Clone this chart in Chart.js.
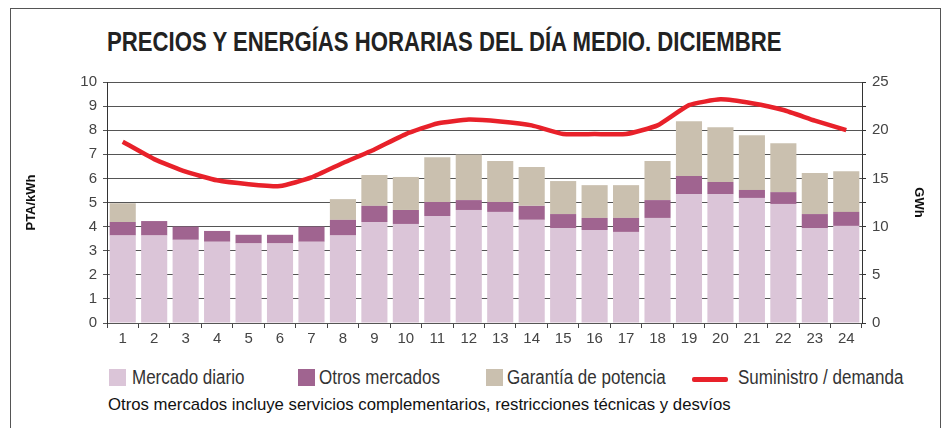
<!DOCTYPE html>
<html>
<head>
<meta charset="utf-8">
<script src="https://cdn.jsdelivr.net/npm/chart.js@4.4.0/dist/chart.umd.min.js"></script>
<style>
  body { margin: 0; background: #fff; font-family: 'Liberation Sans', Arial, sans-serif; }
  #wrap { position: relative; width: 946px; height: 428px; overflow: hidden; }
  #frame { position: absolute; left: 10px; top: 8px; width: 929px; height: 440px; border: 1px solid #555; }
  #title { position: absolute; left: 107px; top: 27px; font-size: 27px; font-weight: bold; color: #222; white-space: nowrap;
           transform: scaleX(0.82); transform-origin: left top; }
  #chart { position: absolute; left: 0; top: 0; }
  .leg { position: absolute; top: 366px; font-size: 20px; color: #333; white-space: nowrap;
         transform: scaleX(0.85); transform-origin: left top; }
  .box { position: absolute; top: 369px; width: 17px; height: 17px; }
  #note { position: absolute; left: 108px; top: 395px; font-size: 17px; color: #111; white-space: nowrap;
          transform: scaleX(0.985); transform-origin: left top; }
</style>
</head>
<body>
<div id="wrap">
  <div id="frame"></div>
  <div id="title">PRECIOS Y ENERGÍAS HORARIAS DEL DÍA MEDIO. DICIEMBRE</div>
  <canvas id="chart" width="946" height="360"></canvas>
  <div class="box" style="left:109px;background:#dbc5d8"></div>
  <div class="leg" style="left:132px">Mercado diario</div>
  <div class="box" style="left:298px;background:#a06490"></div>
  <div class="leg" style="left:319px">Otros mercados</div>
  <div class="box" style="left:486px;background:#cac0af"></div>
  <div class="leg" style="left:507px">Garantía de potencia</div>
  <div style="position:absolute;left:692px;top:377px;width:36px;height:5px;border-radius:2px;background:#e8212a"></div>
  <div class="leg" style="left:738px">Suministro / demanda</div>
  <div id="note">Otros mercados incluye servicios complementarios, restricciones técnicas y desvíos</div>
</div>
<script>
// ---- Data ----
const hours = ['1','2','3','4','5','6','7','8','9','10','11','12','13','14','15','16','17','18','19','20','21','22','23','24'];
// PTA/kWh, stacked parts
const mercadoDiario = [3.63,3.63,3.45,3.37,3.30,3.30,3.37,3.63,4.19,4.11,4.44,4.69,4.61,4.28,3.94,3.86,3.78,4.36,5.35,5.35,5.19,4.94,3.94,4.03];
const otrosMercados = [0.56,0.60,0.55,0.45,0.36,0.36,0.63,0.65,0.67,0.58,0.58,0.41,0.41,0.58,0.58,0.50,0.58,0.74,0.75,0.50,0.33,0.49,0.58,0.58];
const garantiaPotencia = [0.78,0,0,0,0,0,0,0.86,1.28,1.37,1.86,1.89,1.70,1.61,1.37,1.36,1.36,1.62,2.27,2.27,2.27,2.03,1.70,1.69];
// GWh
const suministro = [18.8,17.0,15.7,14.8,14.4,14.2,15.1,16.6,18.0,19.6,20.7,21.1,20.9,20.5,19.6,19.6,19.6,20.5,22.6,23.2,22.8,22.1,21.0,20.0];

const tickFont = { family: "'Liberation Sans', Arial, sans-serif", size: 15 };
const titleFont = { family: "'Liberation Sans', Arial, sans-serif", size: 13, weight: 'bold' };

const ctx = document.getElementById('chart').getContext('2d');
new Chart(ctx, {
  type: 'bar',
  data: {
    labels: hours,
    datasets: [
      { label: 'Suministro / demanda', type: 'line', data: suministro, yAxisID: 'y2',
        borderColor: '#e8212a', borderWidth: 4.5, pointRadius: 0, tension: 0.15, order: 0 },
      { label: 'Mercado diario', data: mercadoDiario, backgroundColor: '#dbc5d8', yAxisID: 'y', order: 1 },
      { label: 'Otros mercados', data: otrosMercados, backgroundColor: '#a06490', yAxisID: 'y', order: 1 },
      { label: 'Garantía de potencia', data: garantiaPotencia, backgroundColor: '#cac0af', yAxisID: 'y', order: 1 }
    ]
  },
  options: {
    responsive: false,
    animation: false,
    barPercentage: 0.83,
    categoryPercentage: 1,
    layout: { padding: { left: 20, right: 16, top: 82, bottom: 0 } },
    plugins: { legend: { display: false }, tooltip: { enabled: false } },
    scales: {
      x: {
        stacked: true,
        grid: { drawOnChartArea: false, drawTicks: true, tickLength: 5, color: '#444' },
        border: { display: false },
        ticks: { color: '#444', font: tickFont, padding: 2 },
        afterFit: s => { s.height = 37; }
      },
      y: {
        stacked: true, position: 'left', min: 0, max: 10,
        ticks: { stepSize: 1, color: '#444', font: tickFont, padding: 6 },
        grid: { color: '#555', tickLength: 4 },
        border: { color: '#333' },
        title: { display: true, text: 'PTA/kWh', color: '#111', font: titleFont },
        afterFit: s => { s.width = 87; }
      },
      y2: {
        position: 'right', min: 0, max: 25,
        ticks: { stepSize: 2.5, color: '#444', font: tickFont, padding: 6,
          callback: v => (v % 5 === 0 ? v : '') },
        grid: { drawOnChartArea: false, color: '#333', tickLength: 4 },
        border: { color: '#333' },
        title: { display: true, text: 'GWh', color: '#111', font: titleFont },
        afterFit: s => { s.width = 68; }
      }
    }
  }
});
</script>
</body>
</html>
